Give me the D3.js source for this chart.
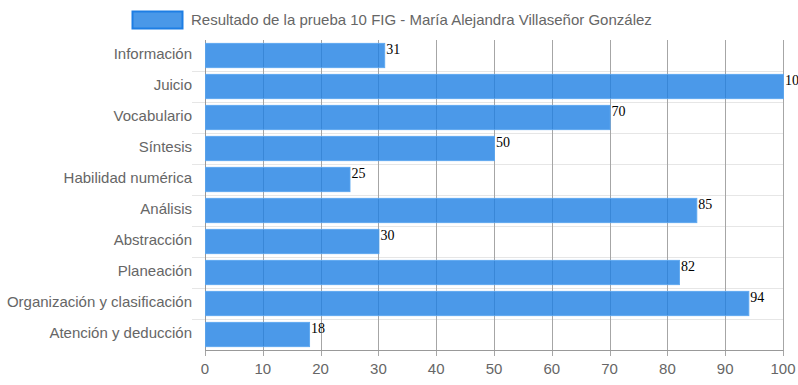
<!DOCTYPE html>
<html>
<head>
<meta charset="utf-8">
<script src="https://cdn.jsdelivr.net/npm/d3@7"></script>
<style>
  body { margin: 0; background: #fff; }
  #chart { width: 798px; height: 385px; }
  text { font-family: "Liberation Sans", Arial, sans-serif; }
</style>
</head>
<body>
<div id="chart"></div>
<script>
// Resultado de la prueba 10 FIG
const seriesName = "Resultado de la prueba 10 FIG - María Alejandra Villaseñor González";
const categories = ["Información", "Juicio", "Vocabulario", "Síntesis", "Habilidad numérica",
    "Análisis", "Abstracción", "Planeación", "Organización y clasificación", "Atención y deducción"];
const scores = [31, 100, 70, 50, 25, 85, 30, 82, 94, 18];
const xTicks = [0, 10, 20, 30, 40, 50, 60, 70, 80, 90, 100];

(() => {
    const W = 798, H = 385;
    const m = { top: 40, right: 15, bottom: 35, left: 205 };
    const w = W - m.left - m.right;
    const h = H - m.top - m.bottom;

    const svg = d3.select("#chart").append("svg").attr("width", W).attr("height", H);
    const g = svg.append("g").attr("transform", `translate(${m.left},${m.top})`);

    const data = categories.map((c, i) => ({ cat: c, val: scores[i] }));

    const x = d3.scaleLinear().domain([0, 100]).range([0, w]);
    const y = d3.scaleBand().domain(categories).range([0, h]);
    const inner = d3.scaleBand().domain(["a"]).range([0, y.bandwidth()]).paddingInner(0).paddingOuter(0.14);

    // horizontal grid (category boundaries)
    g.append("g").selectAll("line")
        .data(d3.range(1, categories.length))
        .join("line")
        .attr("x1", -13).attr("x2", w)
        .attr("y1", i => Math.round(i * y.step()) + 0.5)
        .attr("y2", i => Math.round(i * y.step()) + 0.5)
        .attr("stroke", "#e6e6e6");

    // vertical grid
    g.append("g").selectAll("line")
        .data(xTicks)
        .join("line")
        .attr("x1", d => Math.round(x(d)) + 0.5).attr("x2", d => Math.round(x(d)) + 0.5)
        .attr("y1", 0).attr("y2", h + 6)
        .attr("stroke", "#a6a6a6");

    // axes lines
    g.append("line").attr("x1", 0.5).attr("x2", 0.5).attr("y1", 0).attr("y2", h)
        .attr("stroke", "#999");
    g.append("line").attr("x1", 0).attr("x2", w + 0.5).attr("y1", h + 0.5).attr("y2", h + 0.5)
        .attr("stroke", "#999");

    // bars
    g.selectAll("rect.bar")
        .data(data)
        .join("rect")
        .attr("class", "bar")
        .attr("x", 0.5)
        .attr("y", d => y(d.cat) + inner("a"))
        .attr("width", d => x(d.val))
        .attr("height", inner.bandwidth())
        .attr("fill", "rgba(30,128,228,0.8)")
        .attr("stroke", "rgba(90,165,240,0.9)")
        .attr("stroke-width", 1);

    // value labels
    g.selectAll("text.val")
        .data(data)
        .join("text")
        .attr("class", "val")
        .attr("x", d => x(d.val) + 2)
        .attr("y", d => y(d.cat) + inner("a") + 11)
        .style("font-family", "'Liberation Serif', 'Times New Roman', serif")
        .attr("font-size", 14)
        .attr("fill", "#000")
        .text(d => d.val);

    // y labels
    g.selectAll("text.cat")
        .data(categories)
        .join("text")
        .attr("class", "cat")
        .attr("x", -13)
        .attr("y", d => y(d) + y.bandwidth() / 2 - 1.5)
        .attr("dy", "0.35em")
        .attr("text-anchor", "end")
        .attr("font-size", 15)
        .attr("fill", "#666")
        .text(d => d);

    // x labels
    g.selectAll("text.xt")
        .data(xTicks)
        .join("text")
        .attr("class", "xt")
        .attr("x", d => x(d))
        .attr("y", h + 24)
        .attr("text-anchor", "middle")
        .attr("font-size", 15)
        .attr("fill", "#666")
        .text(d => d);

    // legend
    const lg = svg.append("g").attr("transform", "translate(132,11)");
    lg.append("rect").attr("x", 0.5).attr("y", 0.5).attr("width", 50).attr("height", 17)
        .attr("fill", "#4a98e8").attr("stroke", "#1e7ee4").attr("stroke-width", 2);
    lg.append("text").attr("x", 59).attr("y", 9).attr("dy", "0.35em")
        .attr("font-size", 15).attr("fill", "#666").text(seriesName);
})();
</script>
</body>
</html>
